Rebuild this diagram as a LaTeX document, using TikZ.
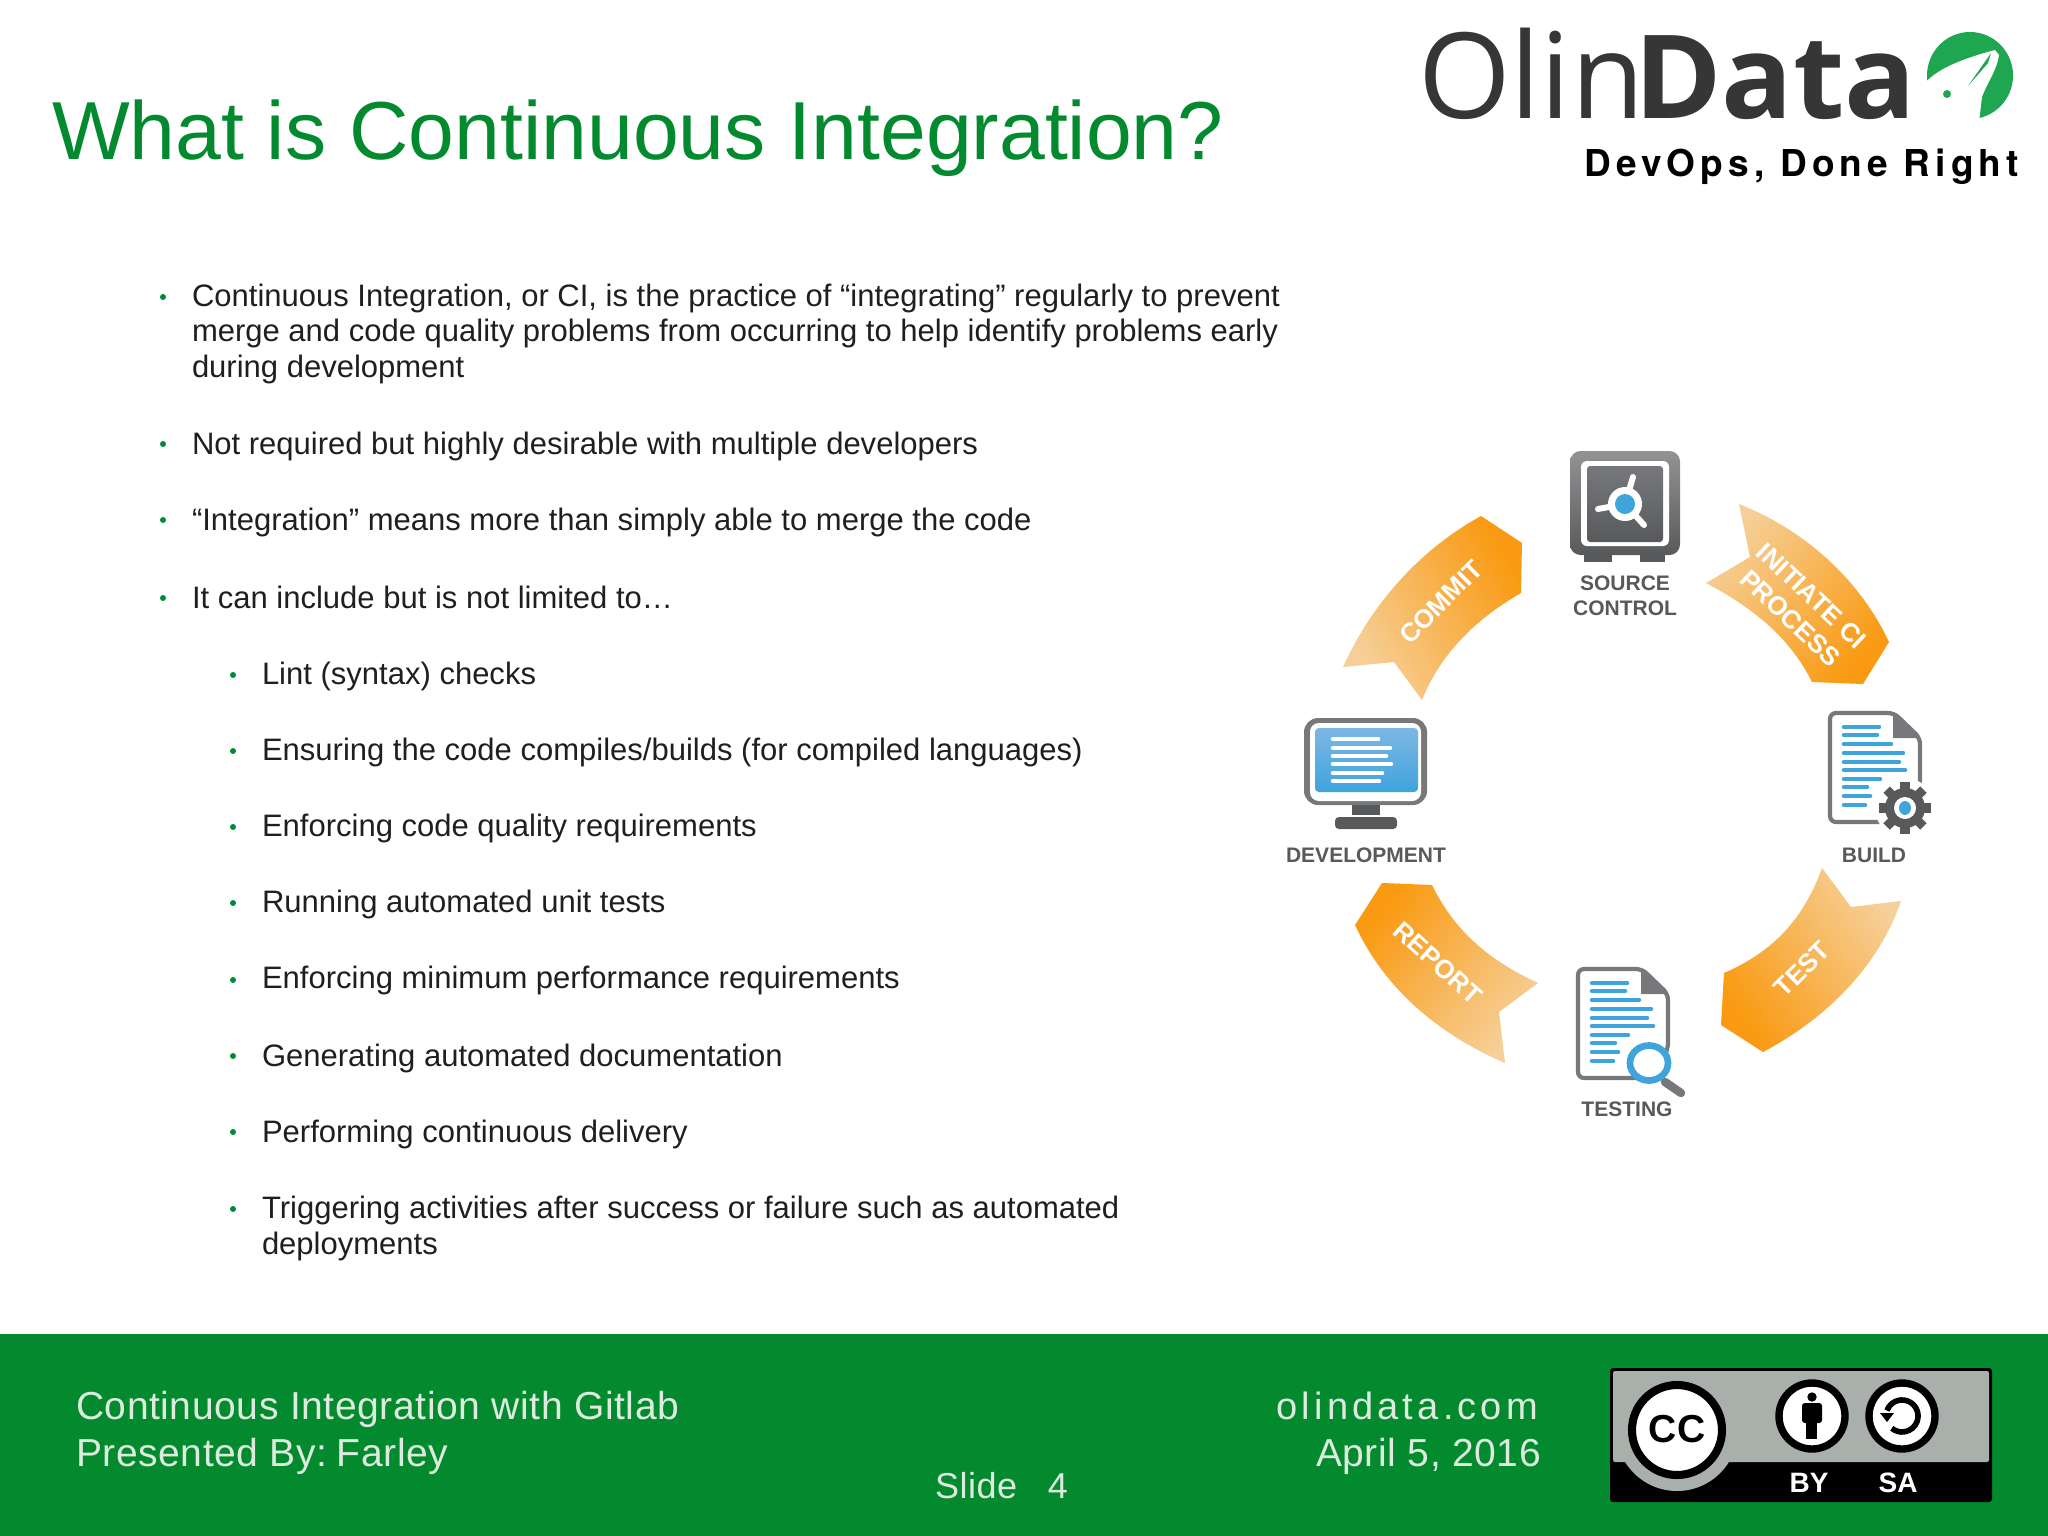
\documentclass[tikz,border=0pt]{standalone}
\usepackage{fontspec}
\setmainfont{Liberation Sans}
\newfontfamily\tagfont[LetterSpace=14]{TeX Gyre Heros}
\newfontfamily\footfont[LetterSpace=1.5]{Liberation Sans}
\newfontfamily\sitefont[LetterSpace=11]{Liberation Sans}
\newfontfamily\logofont{Open Sans}
\newfontfamily\logobold[FakeStretch=1.02]{Open Sans}
\usetikzlibrary{positioning}
\definecolor{olingreen}{HTML}{048A2E}
\definecolor{logogreen}{HTML}{1FA651}
\definecolor{logogray}{HTML}{363636}
\definecolor{footwhite}{HTML}{DCEBDD}
\definecolor{ccgray}{HTML}{A9AFAA}
\definecolor{arrowdark}{HTML}{F99A12}
\definecolor{arrowpale}{HTML}{F6D09A}
\definecolor{icondark}{HTML}{58595B}
\definecolor{icongray}{HTML}{77787B}
\definecolor{iconblue}{HTML}{3FA3DC}
\definecolor{iconlight}{HTML}{7DB7E4}
\newcommand{\pxfont}[1]{\fontsize{\the\dimexpr #1pt*2845/10000\relax}{\the\dimexpr #1pt*3400/10000\relax}\selectfont}

% document icon, shared by build and testing
\newcommand{\docicon}[2]{
  \begin{scope}[shift={(#1,#2)}]
    \draw[icongray,line width=1.2pt,fill=white,rounded corners=1.7pt,line join=round]
      (65,0) -- (1,0) -- (1,109) -- (75,109) -- (91,80) -- (91,25) -- cycle;
    \fill[icongray] (64,0) -- (91,25) -- (64,25) -- cycle;
    \foreach \lx/\ly in {50/14,48/22,62/31,74/40,70/49,76/57,51/66,38/74,41/83,36/92}
      \draw[iconblue,line width=1.3pt,line cap=round] (15,\ly) -- (\lx,\ly);
  \end{scope}
}

\begin{document}
\begin{tikzpicture}[
x=0.01cm,y=-0.01cm,
every node/.style={inner sep=0pt,outer sep=0pt},
bodyline/.style={anchor=base west,text=black!88,font=\pxfont{31}},
footline/.style={text=footwhite,font=\footfont\pxfont{39}},
iconlabel/.style={text=icondark,font=\bfseries\pxfont{21}},
arrowlabel/.style={text=white,font=\bfseries\pxfont{26},align=center},
arrowband/.style={bottom color=arrowpale,top color=arrowdark,shading angle=#1},
ccring/.style={fill=white,draw=black,line width=2.1pt}
]
\useasboundingbox (0,0) rectangle (2048,1536);
\fill[white] (0,0) rectangle (2048,1536);

% Draw header
\node (title) [anchor=base west,text=olingreen,font=\pxfont{82.3}] at (52,159) {What is Continuous Integration?};
\node (olin) [anchor=base west,text=logogray,font=\logofont\pxfont{119}] at (1418,118) {Olin};
\node (data) [anchor=base west,text=logogray,font=\logobold\bfseries\pxfont{116}] at (1634,118) {Data};
\node (tagline) [anchor=base east,text=black,font=\tagfont\bfseries\pxfont{37}] at (2019,176) {DevOps, Done Right};
\fill[logogreen] (1970,75.5) ellipse (43 and 43.5);
\fill[white] (1925,83) .. controls (1938,68) and (1965,58) .. (1995,50) -- (1999,55)
  .. controls (1997,70) and (1986,85) .. (1982,97) -- (1979,122) -- (1915,122) -- cycle;
\fill[logogreen] (1991,53) -- (1968,86) -- (1988,63) -- cycle;
\fill[logogreen] (1947,94) ellipse (4 and 4);

% Draw bullet text
\foreach \lx/\ly/\ltext [count=\i] in {
  192/306/{Continuous Integration, or CI, is the practice of “integrating” regularly to prevent},
  192/341/{merge and code quality problems from occurring to help identify problems early},
  192/377/{during development},
  192/454/{Not required but highly desirable with multiple developers},
  192/530/{“Integration” means more than simply able to merge the code},
  192/608/{It can include but is not limited to…},
  262/684/{Lint (syntax) checks},
  262/760/{Ensuring the code compiles/builds (for compiled languages)},
  262/836/{Enforcing code quality requirements},
  262/912/{Running automated unit tests},
  262/988/{Enforcing minimum performance requirements},
  262/1066/{Generating automated documentation},
  262/1142/{Performing continuous delivery},
  262/1218/{Triggering activities after success or failure such as automated},
  262/1254/{deployments}}
  \node (line\i) [bodyline] at (\lx,\ly) {\ltext};
\foreach \lx/\ly in {163/297,163/444,163/520,163/598,233/675,233/751,233/827,233/903,233/980,233/1056,233/1132,233/1209}
  \fill[olingreen] (\lx,\ly) circle (3);

% Draw cycle arrows
\shade[arrowband=-60] (1481,516) -- (1522,543) -- (1521,593)
  .. controls (1474,620) and (1440,655) .. (1422,700) -- (1394,662) -- (1343,667)
  .. controls (1371,605) and (1419,550) .. cycle;
\shade[arrowband=-130] (1739,504) .. controls (1805,530) and (1860,580) .. (1889,642)
  -- (1863,684) -- (1812,682) .. controls (1791,640) and (1757,610) .. (1706,583)
  -- (1750,557) -- cycle;
\shade[arrowband=125] (1822,868) -- (1851,907) -- (1901,901)
  .. controls (1881,960) and (1833,1015) .. (1763,1052) -- (1721,1025) -- (1724,973)
  .. controls (1777,950) and (1805,915) .. cycle;
\shade[arrowband=50] (1382,883) -- (1432,885) .. controls (1454,930) and (1488,960) .. (1538,983)
  -- (1499,1012) -- (1505,1063) .. controls (1440,1035) and (1385,990) .. (1355,925) -- cycle;

\node (commit) [arrowlabel,rotate=45] at (1441,602) {COMMIT};
\node (initiate) [arrowlabel,rotate=-43.5] at (1801,607) {INITIATE CI\\PROCESS};
\node (test) [arrowlabel,rotate=45] at (1802,969) {TEST};
\node (report) [arrowlabel,rotate=-42] at (1438,963) {REPORT};

% Draw source control icon
\fill[icondark] (1584,550) rectangle (1612,562);
\fill[icondark] (1640,550) rectangle (1665,562);
\shade[top color=icongray!80,bottom color=icondark,rounded corners=3pt] (1570,451) rectangle (1680,555);
\fill[white,rounded corners=1.7pt] (1581,461) rectangle (1669,546);
\shade[top color=icongray,bottom color=icondark,rounded corners=0.9pt] (1587,466) rectangle (1663,542);
\fill[white] (1625,504) circle (17);
\draw[white,line width=1.7pt,line cap=round] (1625,504) -- (1633,477);
\draw[white,line width=1.7pt,line cap=round] (1625,504) -- (1598,509);
\draw[white,line width=1.7pt,line cap=round] (1625,504) -- (1644,525);
\fill[iconblue] (1625,504) ellipse (10 and 10);
\node (source) [iconlabel] at (1625,583) {SOURCE};
\node (control) [iconlabel] at (1625,608) {CONTROL};

% Draw development icon
\fill[icongray,rounded corners=4pt] (1304,718) rectangle (1427,805);
\fill[white,rounded corners=2.5pt] (1310,723) rectangle (1421,801);
\shade[top color=iconlight,bottom color=iconblue,rounded corners=1.1pt] (1315,728) rectangle (1418,792);
\foreach \lx/\ly in {1378/739,1390/748,1386/756,1391/764,1382/773,1379/781}
  \draw[white,line width=1.3pt,line cap=round] (1333,\ly) -- (\lx,\ly);
\fill[icondark] (1352,805) rectangle (1380,815);
\fill[icondark,rounded corners=1.1pt] (1335,817) rectangle (1397,829);
\node (development) [iconlabel] at (1366,855) {DEVELOPMENT};

% Draw build icon
\docicon{1829}{713}
\fill[white] (1905,808) circle (30);
\foreach \a in {0,45,...,315}
  \draw[icondark,line width=2.6pt] (1905,808) -- ++(\a:26);
\fill[icondark] (1905,808) circle (20);
\fill[white] (1905,808) circle (11);
\fill[iconblue] (1905,808) ellipse (6 and 7);
\node (build) [iconlabel] at (1874,855) {BUILD};

% Draw testing icon
\docicon{1577}{969}
\draw[icongray,line width=2.4pt,line cap=round] (1665,1082) -- (1681,1093);
\draw[iconblue,line width=1.9pt,fill=white] (1649,1063) ellipse (19 and 17.5);
\node (testing) [iconlabel] at (1627,1109) {TESTING};

% Draw footer
\fill[olingreen] (0,1334) rectangle (2048,1536);
\node (course) [footline,anchor=base west] at (76,1419) {Continuous Integration with Gitlab};
\node (presenter) [footline,anchor=base west] at (76,1466) {Presented By:\hspace{-0.15em} Farley};
\node (slide) [footline,anchor=base west,font=\footfont\pxfont{36}] at (935,1498) {Slide\hspace{0.85em}4};
\node (site) [footline,anchor=base east,font=\sitefont\pxfont{38}] at (1538,1419) {olindata.com};
\node (date) [footline,anchor=base east] at (1541,1466) {April 5, 2016};

% Draw license badge
\fill[black,rounded corners=0.9pt] (1610,1368) rectangle (1992,1502);
\fill[ccgray,rounded corners=0.6pt] (1613,1371) rectangle (1989,1462);
\begin{scope}
  \clip (1610,1462) rectangle (1992,1502);
  \fill[ccgray] (1677,1430) circle (61);
\end{scope}
\draw[ccring,line width=2.3pt] (1677,1430) circle (45);
\node (cc) [text=black,font=\bfseries\pxfont{39}] at (1677,1429) {CC};
\draw[ccring] (1812,1416) circle (33);
\fill[black] (1812,1397) circle (4.7);
\fill[black,rounded corners=0.8pt] (1802,1403) rectangle (1822,1423);
\fill[black] (1806,1420) rectangle (1817,1439);
\draw[ccring] (1902,1416) circle (33);
\draw[black,line width=1.6pt] (1887,1410.5) arc (-160:130:16);
\fill[black] (1880,1413) -- (1894,1413) -- (1887,1422) -- cycle;
\node (by) [text=white,font=\bfseries\pxfont{28}] at (1809,1483) {BY};
\node (sa) [text=white,font=\bfseries\pxfont{28}] at (1898,1483) {SA};
\end{tikzpicture}
\end{document}
